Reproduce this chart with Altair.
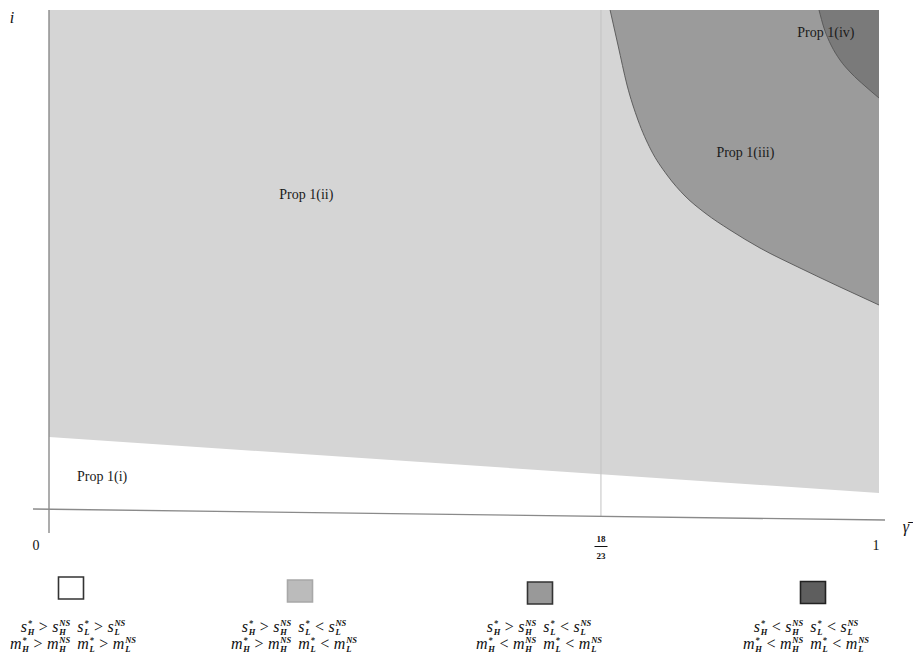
import altair as alt
import pandas as pd

# ---------------- data ----------------
# lower boundary of region (ii) (white region (i) below it)
boundary_gamma = [0.0, 1.0]
boundary_i = [0.146, 0.034]
# lower boundary of region (iii)
iii_gamma = [0.676, 0.6855, 0.6964, 0.7096, 0.7253, 0.7446, 0.7663, 0.7904, 0.8205, 0.8566, 0.9048, 0.953, 1.0]
iii_i = [1.0, 0.93, 0.85, 0.78, 0.72, 0.67, 0.628, 0.594, 0.56, 0.524, 0.484, 0.446, 0.41]
# lower boundary of region (iv)
iv_gamma = [0.9277, 0.9337, 0.9422, 0.953, 0.9663, 0.9831, 1.0]
iv_i = [1.0, 0.964, 0.93, 0.90, 0.874, 0.848, 0.824]
# drawn position of the 18/23 threshold
threshold_gamma = 0.665

region_labels = ["Prop 1(i)", "Prop 1(ii)", "Prop 1(iii)", "Prop 1(iv)"]
label_gamma = [0.064, 0.310, 0.839, 0.936]
label_i = [0.066, 0.630, 0.714, 0.954]

tick_labels = ["0", "18/23", "1"]

legend_fill = ["#ffffff", "#bbbbbb", "#999999", "#5e5e5e"]
legend_stroke = ["#333333", "#a8a8a8", "#333333", "#222222"]
legend_s_ops = [(">", ">"), (">", "<"), (">", "<"), ("<", "<")]
legend_m_ops = [(">", ">"), (">", "<"), ("<", "<"), ("<", "<")]

# ---------------- layout helpers (page pixels -> data units) ----------------
def gx(p):
    return (p - 49) / 830


def gy(p):
    return (510 - p) / 500


XS = alt.Scale(domain=[0, 1], nice=False, zero=False)
YS = alt.Scale(domain=[0, 1], nice=False, zero=False)


def X(f):
    return alt.X(f, type="quantitative", scale=XS, axis=None)


def Y(f):
    return alt.Y(f, type="quantitative", scale=YS, axis=None)


SERIF = "Liberation Serif"

# ---------------- regions ----------------
df_ii = pd.DataFrame({"g": boundary_gamma, "lo": boundary_i, "hi": [1.0] * len(boundary_gamma)})
df_iii = pd.DataFrame({"g": iii_gamma, "lo": iii_i, "hi": [1.0] * len(iii_gamma)})
df_iv = pd.DataFrame({"g": iv_gamma, "lo": iv_i, "hi": [1.0] * len(iv_gamma)})

area_ii = alt.Chart(df_ii).mark_area(color="#d5d5d5", opacity=1).encode(
    x=X("g"), y=Y("lo"), y2="hi")
area_iii = alt.Chart(df_iii).mark_area(color="#9b9b9b", opacity=1, interpolate="monotone").encode(
    x=X("g"), y=Y("lo"), y2="hi")
line_iii = alt.Chart(df_iii).mark_line(color="#555555", strokeWidth=0.9, interpolate="monotone").encode(
    x=X("g"), y=Y("lo"))
area_iv = alt.Chart(df_iv).mark_area(color="#7a7a7a", opacity=1, interpolate="monotone").encode(
    x=X("g"), y=Y("lo"), y2="hi")
line_iv = alt.Chart(df_iv).mark_line(color="#555555", strokeWidth=0.9, interpolate="monotone").encode(
    x=X("g"), y=Y("lo"))

# threshold line
df_thr = pd.DataFrame({"g": [threshold_gamma], "a": [gy(516)], "b": [1.0]})
thr = alt.Chart(df_thr).mark_rule(color="#c2c2c2", strokeWidth=1).encode(
    x=X("g"), y=Y("a"), y2="b")

# axes lines (slightly tilted as in the scan)
df_ax = pd.DataFrame({
    "x1": [gx(33), 0.0], "y1": [gy(509), gy(533)],
    "x2": [gx(885), 0.0], "y2": [gy(520), 1.0]})
axes = alt.Chart(df_ax).mark_rule(color="#8a8a8a", strokeWidth=1.4).encode(
    x=X("x1"), y=Y("y1"), x2="x2", y2="y2")

# region labels
df_lab = pd.DataFrame({"g": label_gamma, "i": label_i, "t": region_labels})
labels = alt.Chart(df_lab).mark_text(font=SERIF, fontSize=14, color="#1a1a1a").encode(
    x=X("g"), y=Y("i"), text="t:N")

# tick labels
df_ticks = pd.DataFrame({"g": [gx(36), gx(876)], "i": [gy(546), gy(546)], "t": [tick_labels[0], tick_labels[2]]})
ticks = alt.Chart(df_ticks).mark_text(font=SERIF, fontSize=14, color="#111111").encode(
    x=X("g"), y=Y("i"), text="t:N")
num, den = tick_labels[1].split("/")
df_frac = pd.DataFrame({"g": [gx(601), gx(601)], "i": [gy(538.5), gy(555.5)], "t": [num, den]})
frac = alt.Chart(df_frac).mark_text(font=SERIF, fontSize=9, fontWeight="bold", color="#111111").encode(
    x=X("g"), y=Y("i"), text="t:N")
df_bar = pd.DataFrame({"a": [gx(594.5)], "b": [gx(607.5)], "i": [gy(546.5)]})
frac_bar = alt.Chart(df_bar).mark_rule(color="#111111", strokeWidth=1).encode(
    x=X("a"), x2="b", y=Y("i"))

# axis titles
df_titles = pd.DataFrame({"g": [gx(12), gx(906)], "i": [gy(18), gy(527)], "t": ["i", "γ̄"]})
titles = alt.Chart(df_titles).mark_text(font=SERIF, fontSize=16, fontStyle="italic", color="#111111").encode(
    x=X("g"), y=Y("i"), text="t:N")

# ---------------- legend ----------------
box_cx = [71, 300, 540, 813]
box_cy = [588, 591, 593, 592.5]
text_cx = [73, 294, 539, 806]
BW, BH = 25, 22
df_box = pd.DataFrame({
    "a": [gx(c - BW / 2) for c in box_cx], "b": [gx(c + BW / 2) for c in box_cx],
    "c": [gy(c - BH / 2) for c in box_cy], "d": [gy(c + BH / 2) for c in box_cy],
    "fill": legend_fill, "stroke": legend_stroke})
boxes = alt.Chart(df_box).mark_rect(strokeWidth=1.6).encode(
    x=X("a"), x2="b", y=Y("c"), y2="d",
    fill=alt.Fill("fill:N", scale=None), stroke=alt.Stroke("stroke:N", scale=None))

W_IT = {"s": 0.389, "m": 0.722}
W_BI = {"H": 0.778, "L": 0.611, "N": 0.722, "S": 0.556, "*": 0.5}
BASE, SCR = 16, 8.5
OPW = 0.564 * BASE
GAP, PAIR = 4.5, 7

base_rows, op_rows, scr_rows = [], [], []


def build_line(letter, ops, cx, base_y):
    items = []

    def term(x, sup, sub):
        items.append(("base", letter, x, 0))
        bw = W_IT[letter] * BASE + 0.8
        items.append(("scr", sup, x + bw, -6.5 if sup == "*" else -6))
        items.append(("scr", sub, x + bw, 3))
        sw = max(sum(W_BI[c] for c in sup), sum(W_BI[c] for c in sub)) * SCR
        return x + bw + sw

    x = 0.0
    x = term(x, "*", "H")
    x += GAP
    items.append(("op", ops[0], x, 0))
    x += OPW + GAP
    x = term(x, "NS", "H")
    x += PAIR
    x = term(x, "*", "L")
    x += GAP
    items.append(("op", ops[1], x, 0))
    x += OPW + GAP
    x = term(x, "NS", "L")
    start = cx - x / 2
    for kind, t, px, dy in items:
        row = {"g": gx(start + px), "i": gy(base_y + dy), "t": t}
        {"base": base_rows, "op": op_rows, "scr": scr_rows}[kind].append(row)


for k in range(4):
    build_line("s", legend_s_ops[k], text_cx[k], 632)
    build_line("m", legend_m_ops[k], text_cx[k], 649)

leg_base = alt.Chart(pd.DataFrame(base_rows)).mark_text(
    font=SERIF, fontSize=BASE, fontStyle="italic", align="left", baseline="alphabetic", color="#111111").encode(
    x=X("g"), y=Y("i"), text="t:N")
leg_op = alt.Chart(pd.DataFrame(op_rows)).mark_text(
    font=SERIF, fontSize=BASE, align="left", baseline="alphabetic", color="#111111").encode(
    x=X("g"), y=Y("i"), text="t:N")
leg_scr = alt.Chart(pd.DataFrame(scr_rows)).mark_text(
    font=SERIF, fontSize=SCR, fontStyle="italic", fontWeight="bold", align="left", baseline="alphabetic",
    color="#111111").encode(
    x=X("g"), y=Y("i"), text="t:N")

chart = alt.layer(
    area_ii, area_iii, line_iii, area_iv, line_iv, thr, axes,
    labels, ticks, frac, frac_bar, titles, boxes, leg_base, leg_op, leg_scr
).properties(
    width=830, height=500,
    autosize=alt.AutoSizeParams(type="none"),
    padding={"left": 41, "top": 2, "right": 34, "bottom": 143},
    background="white",
).configure_view(stroke=None)

chart.save("out.html", embed_options={"renderer": "svg", "actions": False})
